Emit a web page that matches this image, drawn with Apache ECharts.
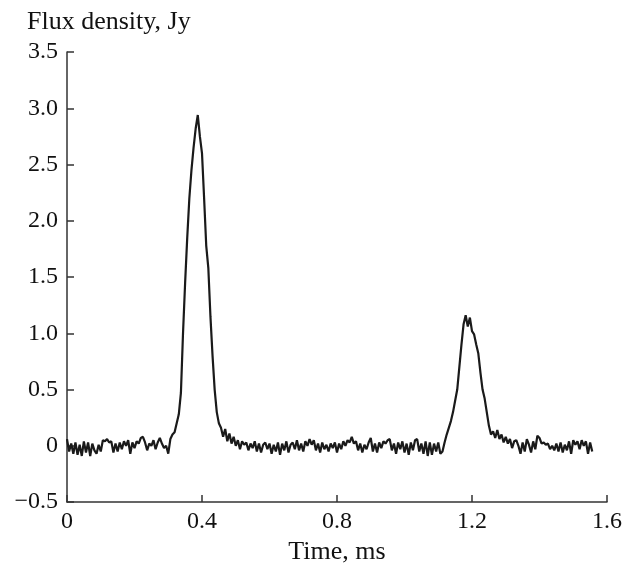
<!DOCTYPE html>
<html>
<head>
<meta charset="utf-8">
<script src="https://cdn.jsdelivr.net/npm/echarts@6/dist/echarts.min.js"></script>
<style>
	html,body{margin:0;padding:0;background:#fff;}
	#main{width:627px;height:570px;}
</style>
</head>
<body>
<div id="main"></div>
<script>
//采样间隔 ms
var dt = 0.00625;
var xTicks = [0, 0.4, 0.8, 1.2, 1.6];
var yTicks = [-0.5, 0, 0.5, 1.0, 1.5, 2.0, 2.5, 3.0, 3.5];
//流量密度 Jy，每个采样一个值
var flux = [
	0.06, -0.05, 0.02, -0.07, 0.03, -0.08, 0.01, -0.09, 0.04, -0.06,
	0.03, -0.09, 0.02, -0.04, -0.07, 0.01, -0.05, 0.05, 0.04, 0.06,
	0.03, 0.04, -0.06, 0.02, -0.05, 0.03, -0.03, 0.04, 0.0, 0.05,
	-0.07, 0.03, -0.02, 0.04, 0.02, 0.07, 0.08, 0.03, -0.04, 0.02,
	0.0, 0.05, -0.03, 0.03, 0.07, 0.02, -0.02, 0.0, -0.07, 0.06,
	0.1, 0.12, 0.2, 0.28, 0.47, 1.0, 1.45, 1.85, 2.2, 2.45,
	2.65, 2.82, 2.94, 2.75, 2.6, 2.2, 1.78, 1.58, 1.15, 0.8,
	0.5, 0.3, 0.2, 0.16, 0.08, 0.15, 0.04, 0.11, 0.02, 0.08,
	0.0, 0.05, -0.03, 0.04, 0.01, 0.03, -0.04, 0.02, -0.02, 0.04,
	-0.05, 0.02, -0.06, 0.01, 0.03, -0.03, 0.02, -0.07, 0.01, -0.05,
	0.03, -0.08, 0.02, -0.04, 0.04, -0.06, 0.01, 0.03, -0.03, 0.05,
	-0.04, 0.02, -0.05, 0.04, 0.0, 0.06, 0.01, 0.05, -0.04, 0.02,
	-0.06, 0.03, -0.03, 0.01, -0.05, 0.02, -0.02, 0.03, -0.06, 0.02,
	-0.03, 0.04, 0.0, 0.05, 0.03, 0.08, 0.02, 0.04, -0.04, 0.02,
	-0.06, 0.01, -0.03, 0.03, 0.07, -0.05, 0.02, -0.06, 0.03, -0.02,
	0.04, 0.02, 0.05, 0.06, -0.04, 0.02, -0.07, 0.03, -0.03, 0.04,
	-0.06, 0.02, -0.08, 0.03, -0.04, 0.05, 0.06, -0.05, 0.02, -0.07,
	0.04, -0.09, 0.03, -0.08, 0.02, -0.05, 0.03, -0.07, -0.05, 0.03,
	0.1, 0.16, 0.22, 0.3, 0.4, 0.5, 0.7, 0.9, 1.08, 1.16,
	1.06, 1.14, 1.02, 0.99, 0.9, 0.82, 0.65, 0.5, 0.42, 0.3,
	0.18, 0.1, 0.13, 0.07, 0.14, 0.06, 0.1, 0.03, 0.08, 0.02,
	0.06, -0.02, 0.04, 0.05, 0.0, -0.07, 0.03, -0.05, 0.06, 0.01,
	-0.06, 0.04, -0.03, 0.09, 0.07, 0.02, 0.03, 0.01, 0.02, -0.03,
	0.0, -0.04, 0.02, -0.05, 0.03, -0.06, 0.01, -0.04, 0.04, -0.07,
	0.05, 0.01, 0.04, -0.03, 0.05, 0.0, 0.04, -0.07, 0.03, -0.05
];

var fontFam = '"Liberation Serif","DejaVu Serif",serif';
var axisColor = '#333';

function fmt(v){
	if(v==0){
		return '0';
	}
	var s = Math.abs(v).toFixed(1);
	if(v<0){
		return '\u2212'+s;
	}
	return s;
}

var points = [];
for(var i=0;i<flux.length;i++){
	points.push([i*dt, flux[i]]);
}

var myChart = echarts.init(document.getElementById('main'));
var option = {
	animation:false,
	title:{
		text:'Flux density, Jy',
		left:22,
		top:4,
		textStyle:{fontFamily:fontFam,fontSize:26,fontWeight:'normal',color:'#111'}
	},
	grid:{left:67,right:20,top:52,bottom:62},
	xAxis:{
		type:'value',
		min:xTicks[0],
		max:xTicks[xTicks.length-1],
		interval:0.4,
		name:'Time, ms',
		nameLocation:'middle',
		nameGap:35,
		nameTextStyle:{fontFamily:fontFam,fontSize:26,color:'#111'},
		axisLine:{onZero:false,lineStyle:{color:axisColor,width:1.5}},
		axisTick:{inside:true,length:7,lineStyle:{color:axisColor,width:1.5}},
		axisLabel:{margin:8,fontFamily:fontFam,fontSize:24,color:'#111',
			formatter:function(v){ return v==0 ? '0' : v.toFixed(1); }},
		splitLine:{show:false}
	},
	yAxis:{
		type:'value',
		min:yTicks[0],
		max:yTicks[yTicks.length-1],
		interval:0.5,
		axisLine:{show:true,onZero:false,lineStyle:{color:axisColor,width:1.5}},
		axisTick:{show:true,inside:true,length:7,lineStyle:{color:axisColor,width:1.5}},
		axisLabel:{margin:9,fontFamily:fontFam,fontSize:24,color:'#111',formatter:fmt},
		splitLine:{show:false}
	},
	series:[{
		type:'line',
		data:points,
		showSymbol:false,
		lineStyle:{color:'#1a1a1a',width:2.2},
		z:3
	}]
};
myChart.setOption(option);
</script>
</body>
</html>
